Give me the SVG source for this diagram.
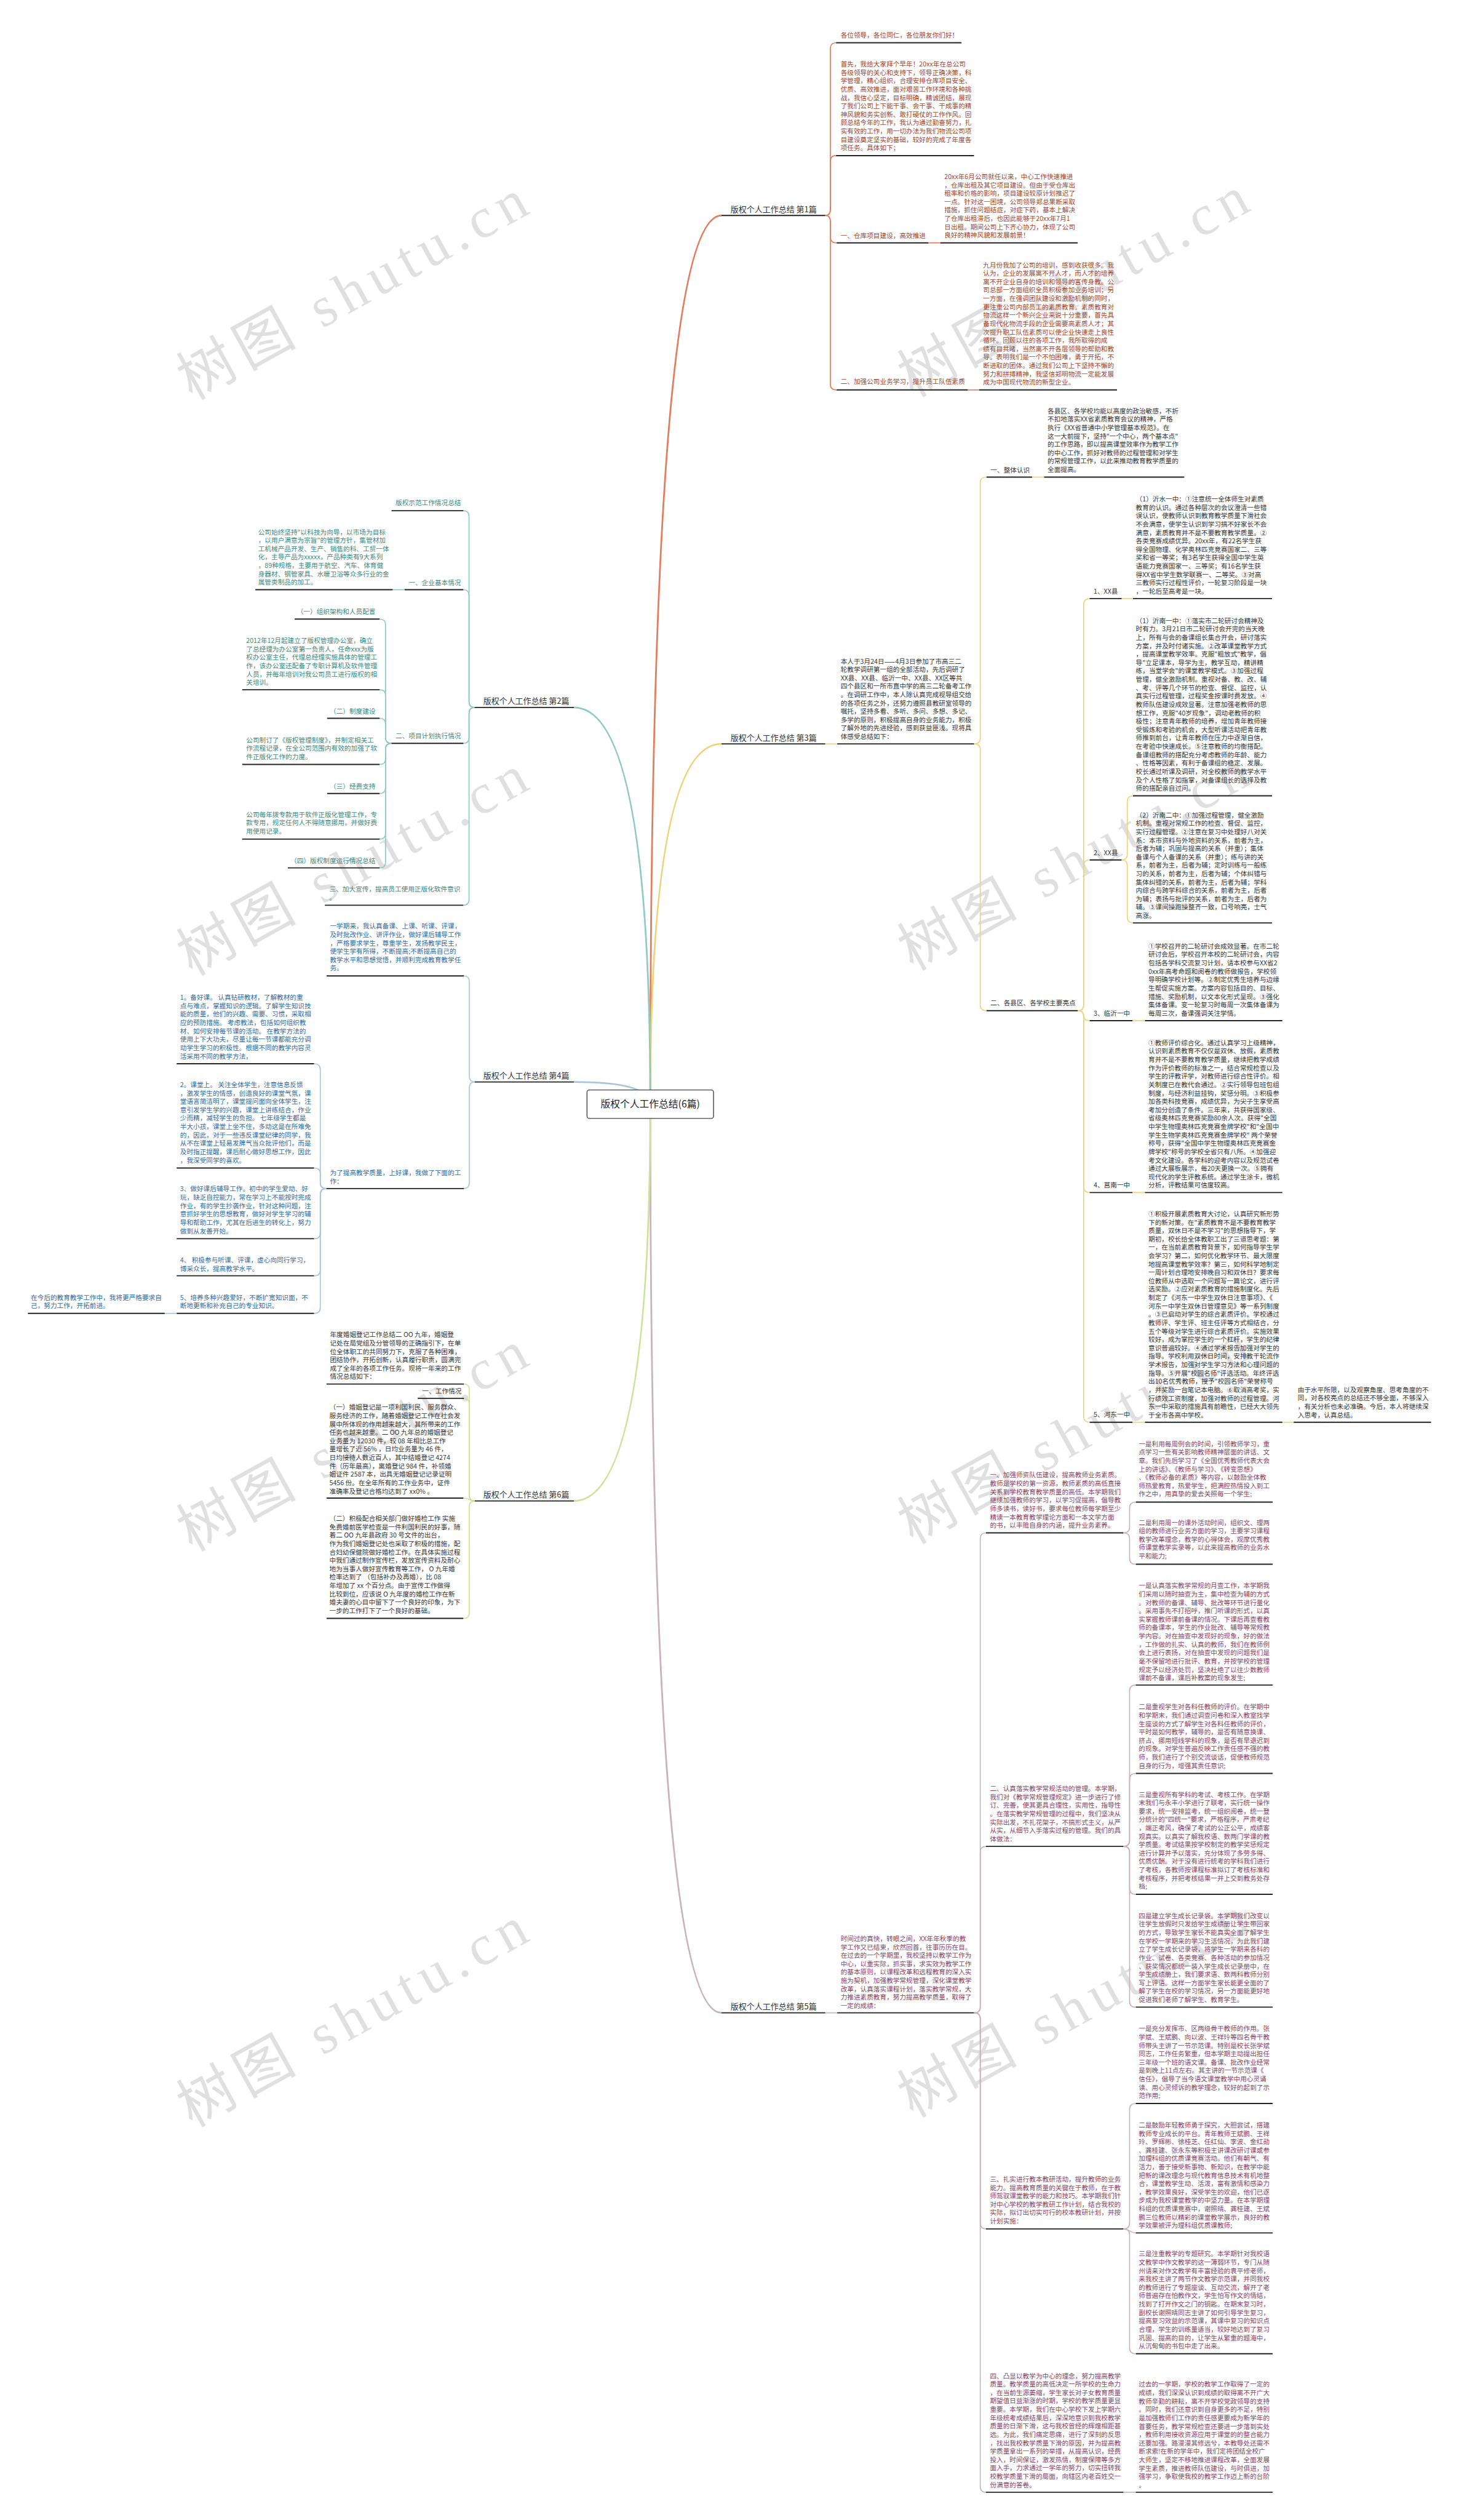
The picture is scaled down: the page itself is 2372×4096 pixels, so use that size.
<svg xmlns="http://www.w3.org/2000/svg" width="2372" height="4096" viewBox="0 0 2372 4096">
<defs>
<style>
.t{font-family:"Noto Sans CJK SC","Noto Sans",sans-serif;font-size:11.5px}
.lb{font-family:"Noto Sans CJK SC","Noto Sans",sans-serif;font-size:14px;fill:#333}
.c1{fill:#a8432c}.c2{fill:#3a8a7d}.c3{fill:#333}.c4{fill:#2e6aa8}.c5{fill:#8a3f63}.c6{fill:#333}
.ul{stroke:#222;stroke-width:2;fill:none}
.k{fill:none;stroke-width:1.8}
.tr{fill:none;stroke-width:3}
.k1{stroke:#e27c5e}.k2{stroke:#8fc9bf}.k3{stroke:#f0d27b}.k4{stroke:#a8c5df}.k5{stroke:#c9b1bd}.k6{stroke:#cde29a}
.wm{font-family:"Liberation Serif","Noto Sans CJK SC",serif;font-size:100px;letter-spacing:12px;fill:#d4d4d4;opacity:0.7;text-anchor:middle}
</style>
</defs>
<rect x="0" y="0" width="2372" height="4096" fill="#fff"/>
<g transform="scale(0.92656)">
<g id="watermark">
<text class="wm" transform="translate(640,535) rotate(-29)">树图 shutu.cn</text>
<text class="wm" transform="translate(640,1545) rotate(-29)">树图 shutu.cn</text>
<text class="wm" transform="translate(640,2555) rotate(-29)">树图 shutu.cn</text>
<text class="wm" transform="translate(640,3565) rotate(-29)">树图 shutu.cn</text>
<text class="wm" transform="translate(1905,530) rotate(-29)">树图 shutu.cn</text>
<text class="wm" transform="translate(1905,1536) rotate(-29)">树图 shutu.cn</text>
<text class="wm" transform="translate(1905,2542) rotate(-29)">树图 shutu.cn</text>
<text class="wm" transform="translate(1905,3548) rotate(-29)">树图 shutu.cn</text>
</g>
<g id="connectors">
<path class="tr k1" d="M1141,1937 Q1141,378 1266,378"/>
<path class="tr k3" d="M1141,1937 Q1141,1305 1266,1305"/>
<path class="tr k5" d="M1141,1937 Q1141,3531 1266,3531"/>
<path class="tr k2" d="M1141,1937 Q1141,1241 1007,1241"/>
<path class="tr k4" d="M1141,1937 Q1141,1898 1007,1898"/>
<path class="tr k6" d="M1141,1937 Q1141,2633 1007,2633"/>
<g class="k k1">
<path d="M1448,378 Q1457,378 1457,368 L1457,85 Q1457,75 1467,75"/>
<path d="M1448,378 Q1457,378 1457,368 L1457,283 Q1457,273 1467,273"/>
<path d="M1448,378 Q1457,378 1457,388 L1457,416 Q1457,426 1468,426"/>
<path d="M1448,378 Q1457,378 1457,388 L1457,674 Q1457,684 1468,684"/>
<path d="M1629,426 L1650,426"/>
<path d="M1698,684 L1718,684"/>
</g>
<g class="k k3">
<path d="M1448,1305 L1469,1305"/>
<path d="M1709,1305 Q1720,1305 1720,1295 L1720,847 Q1720,837 1731,837"/>
<path d="M1709,1305 Q1720,1305 1720,1315 L1720,1763 Q1720,1773 1731,1773"/>
<path d="M1811,837 L1832,837"/>
<path d="M1891,1773 Q1901.5,1773 1901.5,1763 L1901.5,1060 Q1901.5,1050 1912,1050"/>
<path d="M1891,1773 Q1901.5,1773 1901.5,1763 L1901.5,1518.5 Q1901.5,1508.5 1912,1508.5"/>
<path d="M1891,1773 Q1901.5,1773 1901.5,1781.75 Q1901.5,1790.5 1912,1790.5"/>
<path d="M1891,1773 Q1901.5,1773 1901.5,1783 L1901.5,2082 Q1901.5,2092 1912,2092"/>
<path d="M1891,1773 Q1901.5,1773 1901.5,1783 L1901.5,2485 Q1901.5,2495 1912,2495"/>
<path d="M1968,1050 L1988,1050"/>
<path d="M1968,1508.5 Q1978,1508.5 1978,1498.5 L1978,1406 Q1978,1396 1988,1396"/>
<path d="M1968,1508.5 Q1978,1508.5 1978,1518.5 L1978,1609 Q1978,1619 1988,1619"/>
<path d="M1987,1790.5 L2009,1790.5"/>
<path d="M1987,2092 L2009,2092"/>
<path d="M1987,2495 L2009,2495"/>
<path d="M2250,2495 L2270,2495"/>
</g>
<g class="k k2">
<path d="M833,1241 Q823,1241 823,1231 L823,906 Q823,896 813,896"/>
<path d="M833,1241 Q823,1241 823,1231 L823,1044.5 Q823,1034.5 813,1034.5"/>
<path d="M833,1241 Q823,1241 823,1251 L823,1294 Q823,1304 813,1304"/>
<path d="M833,1241 Q823,1241 823,1251 L823,1578 Q823,1588 813,1588"/>
<path d="M710,1034.5 L689,1034.5"/>
<path d="M687,1304 Q676.5,1304 676.5,1294 L676.5,1096 Q676.5,1086 666,1086"/>
<path d="M687,1304 Q676.5,1304 676.5,1294 L676.5,1220 Q676.5,1210 666,1210"/>
<path d="M687,1304 Q676.5,1304 676.5,1294 L676.5,1270 Q676.5,1260 666,1260"/>
<path d="M687,1304 Q676.5,1304 676.5,1314 L676.5,1331 Q676.5,1341 666,1341"/>
<path d="M687,1304 Q676.5,1304 676.5,1314 L676.5,1382 Q676.5,1392 666,1392"/>
<path d="M687,1304 Q676.5,1304 676.5,1314 L676.5,1462 Q676.5,1472 666,1472"/>
<path d="M687,1304 Q676.5,1304 676.5,1314 L676.5,1512.5 Q676.5,1522.5 666,1522.5"/>
</g>
<g class="k k4">
<path d="M833,1898 Q823.5,1898 823.5,1888 L823.5,1722 Q823.5,1712 814,1712"/>
<path d="M833,1898 Q823.5,1898 823.5,1908 L823.5,2075 Q823.5,2085 814,2085"/>
<path d="M573,2085 Q562,2085 562,2075 L562,1876 Q562,1866 551,1866"/>
<path d="M573,2085 Q562,2085 562,2075 L562,2059 Q562,2049 551,2049"/>
<path d="M573,2085 Q562,2085 562,2095 L562,2163 Q562,2173 551,2173"/>
<path d="M573,2085 Q562,2085 562,2095 L562,2228 Q562,2238 551,2238"/>
<path d="M573,2085 Q562,2085 562,2095 L562,2294 Q562,2304 551,2304"/>
<path d="M310,2304 L289,2304"/>
</g>
<g class="k k6">
<path d="M833,2633 Q823.5,2633 823.5,2623 L823.5,2438 Q823.5,2428 814,2428"/>
<path d="M833,2633 Q823.5,2633 823.5,2623 L823.5,2463 Q823.5,2453 814,2453"/>
<path d="M833,2633 C823.5,2633 823.5,2628 813,2628"/>
<path d="M833,2633 Q823.5,2633 823.5,2643 L823.5,2829 Q823.5,2839 813,2839"/>
</g>
<g class="k k5">
<path d="M1448,3531 L1469,3531"/>
<path d="M1709,3531 Q1720,3531 1720,3521 L1720,2699 Q1720,2689 1730,2689"/>
<path d="M1709,3531 Q1720,3531 1720,3521 L1720,3249 Q1720,3239 1730,3239"/>
<path d="M1709,3531 Q1720,3531 1720,3541 L1720,3900 Q1720,3910 1730,3910"/>
<path d="M1709,3531 Q1720,3531 1720,3541 L1720,4362 Q1720,4372 1730,4372"/>
<path d="M1971,2689 Q1982,2689 1982,2679 L1982,2645 Q1982,2635 1993,2635"/>
<path d="M1971,2689 Q1982,2689 1982,2699 L1982,2734 Q1982,2744 1993,2744"/>
<path d="M1971,3239 Q1982,3239 1982,3229 L1982,2966 Q1982,2956 1993,2956"/>
<path d="M1971,3239 Q1982,3239 1982,3229 L1982,3121 Q1982,3111 1993,3111"/>
<path d="M1971,3239 Q1982,3239 1982,3249 L1982,3313 Q1982,3323 1993,3323"/>
<path d="M1971,3239 Q1982,3239 1982,3249 L1982,3511 Q1982,3521 1993,3521"/>
<path d="M1971,3910 Q1982,3910 1982,3900 L1982,3700 Q1982,3690 1993,3690"/>
<path d="M1971,3910 C1982,3910 1982,3917 1993,3917"/>
<path d="M1971,3910 Q1982,3910 1982,3920 L1982,4119 Q1982,4129 1993,4129"/>
<path d="M1971,4372 L1993,4372"/>
</g>
</g>

<g id="center">
<rect x="1030" y="1912" width="222" height="50" rx="4" fill="#fff" stroke="#444" stroke-width="1.5"/>
<text x="1141" y="1943" text-anchor="middle" style="font-family:'Noto Sans CJK SC','Noto Sans',sans-serif;font-size:17px;fill:#222">版权个人工作总结(6篇)</text>
</g>

<g id="p1">
<text class="lb" x="1282" y="372">版权个人工作总结 第1篇</text><line class="ul" x1="1266" y1="378" x2="1448" y2="378"/>
</g>
<g id="p1-a" class="t c1"><text x="1475" y="65.6">各位领导，各位同仁，各位朋友你们好！</text><line class="ul" x1="1467" y1="75" x2="1687" y2="75"/></g>
<g id="p1-b" class="t c1"><text x="1475" y="116.6"><tspan x="1475">首先，我给大家拜个早年！20xx年在总公司</tspan><tspan x="1475" dy="14.7">各级领导的关心和支持下，领导正确决策，科</tspan><tspan x="1475" dy="14.7">学管理，精心组织，合理安排仓库项目安全、</tspan><tspan x="1475" dy="14.7">优质、高效推进，面对艰苦工作环境和各种挑</tspan><tspan x="1475" dy="14.7">战，我信心坚定，目标明确，精诚团结，展现</tspan><tspan x="1475" dy="14.7">了我们公司上下能干事、会干事、干成事的精</tspan><tspan x="1475" dy="14.7">神风貌和务实创新、敢打硬仗的工作作风。回</tspan><tspan x="1475" dy="14.7">顾总结今年的工作，我认为通过勤奋努力，扎</tspan><tspan x="1475" dy="14.7">实有效的工作，用一切办法为我们物流公司项</tspan><tspan x="1475" dy="14.7">目建设奠定坚实的基础，较好的完成了年度各</tspan><tspan x="1475" dy="14.7">项任务。具体如下；</tspan></text><line class="ul" x1="1467" y1="273" x2="1709" y2="273"/></g>
<g id="p1-c" class="t c1"><text x="1475" y="418">一、仓库项目建设，高效推进</text><line class="ul" x1="1468" y1="426" x2="1629" y2="426"/></g>
<g id="p1-c1" class="t c1"><text x="1657" y="314"><tspan x="1657">20xx年6月公司就任以来，中心工作快速推进</tspan><tspan x="1657" dy="14.7">，仓库出租及其它项目建设。但由于受仓库出</tspan><tspan x="1657" dy="14.7">租率和价格的影响，项目建设较原计划推迟了</tspan><tspan x="1657" dy="14.7">一点。针对这一困境，公司领导郑总果断采取</tspan><tspan x="1657" dy="14.7">措施，抓住问题结症，对症下药，基本上解决</tspan><tspan x="1657" dy="14.7">了仓库出租滞后，也因此能够于20xx年7月1</tspan><tspan x="1657" dy="14.7">日出租。期间公司上下齐心协力，体现了公司</tspan><tspan x="1657" dy="14.7">良好的精神风貌和发展前景！</tspan></text><line class="ul" x1="1650" y1="426" x2="1891" y2="426"/></g>
<g id="p1-d" class="t c1"><text x="1475" y="674">二、加强公司业务学习，提升员工队伍素质</text><line class="ul" x1="1468" y1="684" x2="1698" y2="684"/></g>
<g id="p1-d1" class="t c1"><text x="1725" y="469"><tspan x="1725">九月份我加了公司的培训，感到收获很多。我</tspan><tspan x="1725" dy="14.7">认为，企业的发展离不开人才，而人才的培养</tspan><tspan x="1725" dy="14.7">离不开企业自身的培训和领导的言传身教。公</tspan><tspan x="1725" dy="14.7">司总部一方面组织全员积极参加业务培训；另</tspan><tspan x="1725" dy="14.7">一方面，在强调团队建设和激励机制的同时，</tspan><tspan x="1725" dy="14.7">更注重公司内部员工的素质教育。素质教育对</tspan><tspan x="1725" dy="14.7">物流这样一个新兴企业来说十分重要，首先具</tspan><tspan x="1725" dy="14.7">备现代化物流手段的企业需要高素质人才；其</tspan><tspan x="1725" dy="14.7">次提升职工队伍素质可以使企业快速走上良性</tspan><tspan x="1725" dy="14.7">循环。回顾以往的各项工作，我所取得的成</tspan><tspan x="1725" dy="14.7">绩有目共睹，当然离不开各层领导的帮助和教</tspan><tspan x="1725" dy="14.7">导。表明我们是一个不怕困难，勇于开拓，不</tspan><tspan x="1725" dy="14.7">断进取的团体。通过我们公司上下坚持不懈的</tspan><tspan x="1725" dy="14.7">努力和拼搏精神，我坚信郑明物流一定能发展</tspan><tspan x="1725" dy="14.7">成为中国现代物流的新型企业。</tspan></text><line class="ul" x1="1718" y1="684" x2="1960" y2="684"/></g>

<g id="p3">
<text class="lb" x="1282" y="1299">版权个人工作总结 第3篇</text><line class="ul" x1="1266" y1="1305" x2="1448" y2="1305"/>
</g>
<g id="p3-a" class="t c3"><text x="1475" y="1164"><tspan x="1475">本人于3月24日——4月3日参加了市高三二</tspan><tspan x="1475" dy="14.7">轮教学调研第一组的全部活动，先后调研了</tspan><tspan x="1475" dy="14.7">XX县、XX县、临沂一中、XX县、XX区等共</tspan><tspan x="1475" dy="14.7">四个县区和一所市直中学的高三二轮备考工作</tspan><tspan x="1475" dy="14.7">。在调研工作中，本人除认真完成视导组交给</tspan><tspan x="1475" dy="14.7">的各项任务之外，还努力遵照县教研室领导的</tspan><tspan x="1475" dy="14.7">嘱托，坚持多看、多听、多问、多想、多记、</tspan><tspan x="1475" dy="14.7">多学的原则，积极提高自身的业务能力，积极</tspan><tspan x="1475" dy="14.7">了解外地的先进经验，感到获益匪浅。现将具</tspan><tspan x="1475" dy="14.7">体感受总结如下：</tspan></text><line class="ul" x1="1469" y1="1305" x2="1709" y2="1305"/></g>
<g id="p3-b" class="t c3"><text x="1738" y="828.5">一、整体认识</text><line class="ul" x1="1731" y1="837" x2="1811" y2="837"/></g>
<g id="p3-b1" class="t c3"><text x="1838" y="725"><tspan x="1838">各县区、各学校均能以高度的政治敏感，不折</tspan><tspan x="1838" dy="14.7">不扣地落实XX省素质教育会议的精神，严格</tspan><tspan x="1838" dy="14.7">执行《XX省普通中小学管理基本规范》。在</tspan><tspan x="1838" dy="14.7">这一大前提下，坚持"一个中心，两个基本点"</tspan><tspan x="1838" dy="14.7">的工作思路，即以提高课堂效率作为教学工作</tspan><tspan x="1838" dy="14.7">的中心工作，抓好对教师的过程管理和对学生</tspan><tspan x="1838" dy="14.7">的常规管理工作，以此来推动教育教学质量的</tspan><tspan x="1838" dy="14.7">全面提高。</tspan></text><line class="ul" x1="1832" y1="837" x2="2078" y2="837"/></g>
<g id="p3-c" class="t c3"><text x="1738" y="1764">二、各县区、各学校主要亮点</text><line class="ul" x1="1731" y1="1773" x2="1891" y2="1773"/></g>
<g id="p3-c1" class="t c3"><text x="1919" y="1041">1、XX县</text><line class="ul" x1="1912" y1="1050" x2="1968" y2="1050"/></g>
<g id="p3-c1a" class="t c3"><text x="1993" y="879.7"><tspan x="1993">（1）沂水一中：①注意统一全体师生对素质</tspan><tspan x="1993" dy="14.7">教育的认识。通过各种层次的会议澄清一些错</tspan><tspan x="1993" dy="14.7">误认识，使教师认识到教育教学质量下滑社会</tspan><tspan x="1993" dy="14.7">不会满意，使学生认识到学习搞不好家长不会</tspan><tspan x="1993" dy="14.7">满意，素质教育并不是不要教育教学质量。②</tspan><tspan x="1993" dy="14.7">各类竞赛成绩优异。20xx年，有22名学生获</tspan><tspan x="1993" dy="14.7">得全国物理、化学奥林匹克竞赛国家二、三等</tspan><tspan x="1993" dy="14.7">奖和省一等奖；有3名学生获得全国中学生英</tspan><tspan x="1993" dy="14.7">语能力竞赛国家一、三等奖；有16名学生获</tspan><tspan x="1993" dy="14.7">得XX省中学生数学联赛一、二等奖。③对高</tspan><tspan x="1993" dy="14.7">三教师实行过程性评价，一轮复习阶段是一块</tspan><tspan x="1993" dy="14.7">，一轮后至高考是一块。</tspan></text><line class="ul" x1="1988" y1="1050" x2="2232" y2="1050"/></g>
<g id="p3-c2" class="t c3"><text x="1919" y="1500">2、XX县</text><line class="ul" x1="1912" y1="1508.5" x2="1968" y2="1508.5"/></g>
<g id="p3-c2a" class="t c3"><text x="1993" y="1093"><tspan x="1993">（1）沂南一中：①落实市二轮研讨会精神及</tspan><tspan x="1993" dy="14.7">时有力。3月21日市二轮研讨会开完的当天晚</tspan><tspan x="1993" dy="14.7">上，所有与会的备课组长集合开会，研讨落实</tspan><tspan x="1993" dy="14.7">方案，并及时付诸实施。②改革课堂教学方式</tspan><tspan x="1993" dy="14.7">，提高课堂教学效率。克服"粗放式"教学，倡</tspan><tspan x="1993" dy="14.7">导"立足课本，导学为主，教学互动，精讲精</tspan><tspan x="1993" dy="14.7">练，当堂学会"的课堂教学模式。③加强过程</tspan><tspan x="1993" dy="14.7">管理，健全激励机制。重视对备、教、改、辅</tspan><tspan x="1993" dy="14.7">、考、评等几个环节的检查、督促、监控，认</tspan><tspan x="1993" dy="14.7">真实行过程管理，过程奖金按课时费发放。④</tspan><tspan x="1993" dy="14.7">教师队伍建设成效显著。注意加强老教师的思</tspan><tspan x="1993" dy="14.7">想工作，克服"40岁现象"，调动老教师的积</tspan><tspan x="1993" dy="14.7">极性；注意青年教师的培养，增加青年教师接</tspan><tspan x="1993" dy="14.7">受锻炼和考验的机会，大型听课活动把青年教</tspan><tspan x="1993" dy="14.7">师推到前台，让青年教师在压力中逐渐自信，</tspan><tspan x="1993" dy="14.7">在考验中快速成长。⑤注意教师的均衡搭配。</tspan><tspan x="1993" dy="14.7">备课组教师的搭配充分考虑教师的年龄、能力</tspan><tspan x="1993" dy="14.7">、性格等因素，有利于备课组的稳定、发展。</tspan><tspan x="1993" dy="14.7">校长通过听课及调研，对全校教师的教学水平</tspan><tspan x="1993" dy="14.7">及个人性格了如指掌，对备课组长的选择及教</tspan><tspan x="1993" dy="14.7">师的搭配亲自过问。</tspan></text><line class="ul" x1="1988" y1="1396" x2="2232" y2="1396"/></g>
<g id="p3-c2b" class="t c3"><text x="1993" y="1434"><tspan x="1993">（2）沂南二中：①加强过程管理，健全激励</tspan><tspan x="1993" dy="14.7">机制。重视对常规工作的检查、督促、监控，</tspan><tspan x="1993" dy="14.7">实行过程管理。②注意在复习中处理好八对关</tspan><tspan x="1993" dy="14.7">系：本市资料与外地资料的关系，前者为主，</tspan><tspan x="1993" dy="14.7">后者为辅；巩固与提高的关系（并重）；集体</tspan><tspan x="1993" dy="14.7">备课与个人备课的关系（并重）；练与讲的关</tspan><tspan x="1993" dy="14.7">系，前者为主，后者为辅；定时训练与一般练</tspan><tspan x="1993" dy="14.7">习的关系，前者为主，后者为辅；个体纠错与</tspan><tspan x="1993" dy="14.7">集体纠错的关系，前者为主，后者为辅；学科</tspan><tspan x="1993" dy="14.7">内综合与跨学科综合的关系，前者为主，后者</tspan><tspan x="1993" dy="14.7">为辅；表扬与批评的关系，前者为主，后者为</tspan><tspan x="1993" dy="14.7">辅。③课间操跑操整齐一致，口号响亮，士气</tspan><tspan x="1993" dy="14.7">高涨。</tspan></text><line class="ul" x1="1988" y1="1619" x2="2232" y2="1619"/></g>
<g id="p3-c3" class="t c3"><text x="1919" y="1781.5">3、临沂一中</text><line class="ul" x1="1912" y1="1790.5" x2="1987" y2="1790.5"/></g>
<g id="p3-c3a" class="t c3"><text x="2015" y="1664"><tspan x="2015">①学校召开的二轮研讨会成效显著。在市二轮</tspan><tspan x="2015" dy="14.7">研讨会后，学校召开本校的二轮研讨会，内容</tspan><tspan x="2015" dy="14.7">包括各学科交流复习计划，请本校参与XX省2</tspan><tspan x="2015" dy="14.7">0xx年高考命题和阅卷的教师做报告，学校领</tspan><tspan x="2015" dy="14.7">导明确学校计划等。②制定优秀生培养与边缘</tspan><tspan x="2015" dy="14.7">生帮促实施方案。方案内容包括目的、目标、</tspan><tspan x="2015" dy="14.7">措施、奖励机制，以文本化形式呈现。③强化</tspan><tspan x="2015" dy="14.7">集体备课。变一轮复习时每周一次集体备课为</tspan><tspan x="2015" dy="14.7">每周三次，备课强调关注学情。</tspan></text><line class="ul" x1="2009" y1="1790.5" x2="2250" y2="1790.5"/></g>
<g id="p3-c4" class="t c3"><text x="1919" y="2083">4、莒南一中</text><line class="ul" x1="1912" y1="2092" x2="1987" y2="2092"/></g>
<g id="p3-c4a" class="t c3"><text x="2015" y="1833.5"><tspan x="2015">①教师评价综合化。通过认真学习上级精神，</tspan><tspan x="2015" dy="14.7">认识到素质教育不仅仅是双休、放假，素质教</tspan><tspan x="2015" dy="14.7">育并不是不要教育教学质量，继续把教学成绩</tspan><tspan x="2015" dy="14.7">作为评价教师的标准之一，结合常规检查以及</tspan><tspan x="2015" dy="14.7">学生的评教评学，对教师进行综合性评价。相</tspan><tspan x="2015" dy="14.7">关制度已在教代会通过。②实行领导包班包组</tspan><tspan x="2015" dy="14.7">制度，与经济利益挂钩，奖惩分明。③积极参</tspan><tspan x="2015" dy="14.7">加各类科技竞赛，成绩优异，为尖子生享受高</tspan><tspan x="2015" dy="14.7">考加分创造了条件。三年来，共获得国家级、</tspan><tspan x="2015" dy="14.7">省级奥林匹克竞赛奖励80余人次。获得"全国</tspan><tspan x="2015" dy="14.7">中学生物理奥林匹克竞赛金牌学校"和"全国中</tspan><tspan x="2015" dy="14.7">学生生物学奥林匹克竞赛金牌学校" 两个荣誉</tspan><tspan x="2015" dy="14.7">称号，获得"全国中学生物理奥林匹克竞赛金</tspan><tspan x="2015" dy="14.7">牌学校"称号的学校全省只有八所。④加强迎</tspan><tspan x="2015" dy="14.7">考文化建设。各学科的迎考内容以及规范试卷</tspan><tspan x="2015" dy="14.7">通过大展板展示，每20天更换一次。⑤拥有</tspan><tspan x="2015" dy="14.7">现代化的学生评教系统。通过学生涂卡，微机</tspan><tspan x="2015" dy="14.7">分析，评教结果可信度较高。</tspan></text><line class="ul" x1="2009" y1="2092" x2="2250" y2="2092"/></g>
<g id="p3-c5" class="t c3"><text x="1919" y="2486">5、河东一中</text><line class="ul" x1="1912" y1="2495" x2="1987" y2="2495"/></g>
<g id="p3-c5a" class="t c3"><text x="2015" y="2133.6"><tspan x="2015">①积极开展素质教育大讨论，认真研究新形势</tspan><tspan x="2015" dy="14.7">下的新对策。在"素质教育不是不要教育教学</tspan><tspan x="2015" dy="14.7">质量，双休日不是不学习"的思想指导下，学</tspan><tspan x="2015" dy="14.7">期初，校长给全体教职工出了三道思考题：第</tspan><tspan x="2015" dy="14.7">一，在当前素质教育背景下，如何指导学生学</tspan><tspan x="2015" dy="14.7">会学习？第二，如何优化教学环节、最大限度</tspan><tspan x="2015" dy="14.7">地提高课堂教学效率？第三，如何科学地制定</tspan><tspan x="2015" dy="14.7">一周计划合理地安排晚自习和双休日？要求每</tspan><tspan x="2015" dy="14.7">位教师从中选取一个问题写一篇论文，进行评</tspan><tspan x="2015" dy="14.7">选奖励。②应对素质教育的措施制度化。先后</tspan><tspan x="2015" dy="14.7">制定了《河东一中学生双休日注意事项》、《</tspan><tspan x="2015" dy="14.7">河东一中学生双休日管理意见》等一系列制度</tspan><tspan x="2015" dy="14.7">。③已启动对学生的综合素质评价。学校通过</tspan><tspan x="2015" dy="14.7">教师评、学生评、班主任评等方式相结合，分</tspan><tspan x="2015" dy="14.7">五个等级对学生进行综合素质评价。实施效果</tspan><tspan x="2015" dy="14.7">较好，成为掌控学生的一个杠杆，学生的纪律</tspan><tspan x="2015" dy="14.7">意识普遍较好。④通过学术报告加强对学生的</tspan><tspan x="2015" dy="14.7">指导。学校利用双休日时间，安排教干轮流作</tspan><tspan x="2015" dy="14.7">学术报告，加强对学生学习方法和心理问题的</tspan><tspan x="2015" dy="14.7">指导。⑤开展"校园名师"评选活动。年终评选</tspan><tspan x="2015" dy="14.7">出10名优秀教师，授予"校园名师"荣誉称号</tspan><tspan x="2015" dy="14.7">，并奖励一台笔记本电脑。⑥取消高考奖，实</tspan><tspan x="2015" dy="14.7">行绩效工资制度，加强对教师的过程管理。河</tspan><tspan x="2015" dy="14.7">东一中采取的措施具有前瞻性，已经大大领先</tspan><tspan x="2015" dy="14.7">于全市各高中学校。</tspan></text><line class="ul" x1="2009" y1="2495" x2="2250" y2="2495"/></g>
<g id="p3-c5b" class="t c3"><text x="2277" y="2442"><tspan x="2277">由于水平所限，以及观察角度、思考角度的不</tspan><tspan x="2277" dy="14.7">同，对各校亮点的总结还不够全面，不够深入</tspan><tspan x="2277" dy="14.7">，有关分析也未必准确。今后，本人将继续深</tspan><tspan x="2277" dy="14.7">入思考，认真总结。</tspan></text><line class="ul" x1="2270" y1="2495" x2="2511" y2="2495"/></g>

<g id="p2">
<text class="lb" x="848" y="1235">版权个人工作总结 第2篇</text><line class="ul" x1="833" y1="1241" x2="1007" y2="1241"/>
</g>
<g id="p2-a" class="t c2"><text x="694" y="886">版权示范工作情况总结</text><line class="ul" x1="687" y1="896" x2="813" y2="896"/></g>
<g id="p2-b" class="t c2"><text x="717" y="1026.5">一、企业基本情况</text><line class="ul" x1="710" y1="1034.5" x2="813" y2="1034.5"/></g>
<g id="p2-b1" class="t c2"><text x="453" y="937.5"><tspan x="453">公司始终坚持"以科技为向导，以市场为目标</tspan><tspan x="453" dy="14.7">，以用户满意为宗旨"的管理方针，集管材加</tspan><tspan x="453" dy="14.7">工机械产品开发、生产、销售的科、工贸一体</tspan><tspan x="453" dy="14.7">化，主导产品为xxxxx，产品种类有9大系列</tspan><tspan x="453" dy="14.7">，89种规格，主要用于航空、汽车、体育健</tspan><tspan x="453" dy="14.7">身器材、钢管家具、水暖卫浴等众多行业的金</tspan><tspan x="453" dy="14.7">属管类制品的加工。</tspan></text><line class="ul" x1="448" y1="1034.5" x2="689" y2="1034.5"/></g>
<g id="p2-c" class="t c2"><text x="694" y="1295.5">二、项目计划执行情况</text><line class="ul" x1="687" y1="1304" x2="813" y2="1304"/></g>
<g id="p2-c1" class="t c2"><text x="521" y="1077.5">（一）组织架构和人员配置</text><line class="ul" x1="517" y1="1086" x2="666" y2="1086"/></g>
<g id="p2-c1a" class="t c2"><text x="432" y="1128"><tspan x="432">2012年12月起建立了版权管理办公室，确立</tspan><tspan x="432" dy="14.7">了总经理为办公室第一负责人，任命xxx为版</tspan><tspan x="432" dy="14.7">权办公室主任，代理总经理实施具体的管理工</tspan><tspan x="432" dy="14.7">作，该办公室还配备了专职计算机及软件管理</tspan><tspan x="432" dy="14.7">人员，并每年培训对我公司员工进行版权的相</tspan><tspan x="432" dy="14.7">关培训。</tspan></text><line class="ul" x1="425" y1="1210" x2="666" y2="1210"/></g>
<g id="p2-c2" class="t c2"><text x="578.5" y="1252">（二）制度建设</text><line class="ul" x1="574" y1="1260" x2="666" y2="1260"/></g>
<g id="p2-c2a" class="t c2"><text x="432" y="1302.5"><tspan x="432">公司制订了《版权管理制度》，并制定相关工</tspan><tspan x="432" dy="14.7">作流程记录，在全公司范围内有效的加强了软</tspan><tspan x="432" dy="14.7">件正版化工作的力度。</tspan></text><line class="ul" x1="425" y1="1341" x2="666" y2="1341"/></g>
<g id="p2-c3" class="t c2"><text x="578.5" y="1383.5">（三）经费支持</text><line class="ul" x1="574" y1="1392" x2="666" y2="1392"/></g>
<g id="p2-c3a" class="t c2"><text x="432" y="1433"><tspan x="432">公司每年拨专款用于软件正版化管理工作，专</tspan><tspan x="432" dy="14.7">款专用，规定任何人不得随意挪用，并做好费</tspan><tspan x="432" dy="14.7">用使用记录。</tspan></text><line class="ul" x1="425" y1="1472" x2="666" y2="1472"/></g>
<g id="p2-c4" class="t c2"><text x="509.5" y="1514">（四）版权制度运行情况总结</text><line class="ul" x1="505" y1="1522.5" x2="666" y2="1522.5"/></g>
<g id="p2-d" class="t c2"><text x="578" y="1564"><tspan x="578">三、加大宣传，提高员工使用正版化软件意识</tspan><tspan x="578" dy="14.7">。</tspan></text><line class="ul" x1="570" y1="1588" x2="813" y2="1588"/></g>

<g id="p4">
<text class="lb" x="848" y="1892">版权个人工作总结 第4篇</text><line class="ul" x1="833" y1="1898" x2="1007" y2="1898"/>
</g>
<g id="p4-a" class="t c4"><text x="579" y="1629"><tspan x="579">一学期来，我认真备课、上课、听课、评课，</tspan><tspan x="579" dy="14.7">及时批改作业、讲评作业，做好课后辅导工作</tspan><tspan x="579" dy="14.7">，严格要求学生，尊重学生，发扬教学民主，</tspan><tspan x="579" dy="14.7">使学生学有所得，不断提高;不断提高自己的</tspan><tspan x="579" dy="14.7">教学水平和思想觉悟，并顺利完成教育教学任</tspan><tspan x="579" dy="14.7">务。</tspan></text><line class="ul" x1="573" y1="1712" x2="814" y2="1712"/></g>
<g id="p4-b" class="t c4"><text x="579" y="2061.5"><tspan x="579">为了提高教学质量，上好课，我做了下面的工</tspan><tspan x="579" dy="14.7">作：</tspan></text><line class="ul" x1="573" y1="2085" x2="814" y2="2085"/></g>
<g id="p4-b1" class="t c4"><text x="316" y="1754"><tspan x="316">1。备好课。 认真钻研教材，了解教材的重</tspan><tspan x="316" dy="14.7">点与难点，掌握知识的逻辑。了解学生知识技</tspan><tspan x="316" dy="14.7">能的质量，他们的兴趣、需要、习惯，采取相</tspan><tspan x="316" dy="14.7">应的预防措施。 考虑教法，包括如何组织教</tspan><tspan x="316" dy="14.7">材、如何安排每节课的活动。 在教学方法的</tspan><tspan x="316" dy="14.7">使用上下大功夫，尽量让每一节课都能充分调</tspan><tspan x="316" dy="14.7">动学生学习的积极性。根据不同的教学内容灵</tspan><tspan x="316" dy="14.7">活采用不同的教学方法，</tspan></text><line class="ul" x1="310" y1="1866" x2="551" y2="1866"/></g>
<g id="p4-b2" class="t c4"><text x="316" y="1907"><tspan x="316">2。课堂上。 关注全体学生，注意信息反馈</tspan><tspan x="316" dy="14.7">，激发学生的情感，创造良好的课堂气氛，课</tspan><tspan x="316" dy="14.7">堂语言简洁明了，课堂提问面向全体学生，注</tspan><tspan x="316" dy="14.7">意引发学生学的兴趣，课堂上讲练结合，作业</tspan><tspan x="316" dy="14.7">少而精，减轻学生的负担。 七年级学生都是</tspan><tspan x="316" dy="14.7">半大小孩，课堂上坐不住，多动这是在所难免</tspan><tspan x="316" dy="14.7">的，因此，对于一些违反课堂纪律的同学，我</tspan><tspan x="316" dy="14.7">从不在课堂上轻易发脾气当众批评他们，而是</tspan><tspan x="316" dy="14.7">及时指正提醒，课后耐心做好思想工作，因此</tspan><tspan x="316" dy="14.7">，我深受同学的喜欢。</tspan></text><line class="ul" x1="310" y1="2049" x2="551" y2="2049"/></g>
<g id="p4-b3" class="t c4"><text x="316" y="2090"><tspan x="316">3、做好课后辅导工作。初中的学生爱动、好</tspan><tspan x="316" dy="14.7">玩，缺乏自控能力，常在学习上不能按时完成</tspan><tspan x="316" dy="14.7">作业，有的学生抄袭作业，针对这种问题，注</tspan><tspan x="316" dy="14.7">意抓好学生的思想教育，做好对学生学习的辅</tspan><tspan x="316" dy="14.7">导和帮助工作，尤其在后进生的转化上，努力</tspan><tspan x="316" dy="14.7">做到从友善开始。</tspan></text><line class="ul" x1="310" y1="2173" x2="551" y2="2173"/></g>
<g id="p4-b4" class="t c4"><text x="316" y="2214.6"><tspan x="316">4、 积极参与听课、评课，虚心向同行学习，</tspan><tspan x="316" dy="14.7">博采众长，提高教学水平。</tspan></text><line class="ul" x1="310" y1="2238" x2="551" y2="2238"/></g>
<g id="p4-b5" class="t c4"><text x="316" y="2280"><tspan x="316">5、培养多种兴趣爱好，不断扩宽知识面，不</tspan><tspan x="316" dy="14.7">断地更新和补充自己的专业知识。</tspan></text><line class="ul" x1="310" y1="2304" x2="551" y2="2304"/></g>
<g id="p4-b5a" class="t c4"><text x="54" y="2280"><tspan x="54">在今后的教育教学工作中，我将更严格要求自</tspan><tspan x="54" dy="14.7">己，努力工作，开拓前进。</tspan></text><line class="ul" x1="49" y1="2304" x2="289" y2="2304"/></g>

<g id="p6">
<text class="lb" x="848" y="2627">版权个人工作总结 第6篇</text><line class="ul" x1="833" y1="2633" x2="1007" y2="2633"/>
</g>
<g id="p6-a" class="t c6"><text x="579" y="2345.6"><tspan x="579">年度婚姻登记工作总结二 OO 九年，婚姻登</tspan><tspan x="579" dy="14.7">记处在局党组及分管领导的正确指引下，在单</tspan><tspan x="579" dy="14.7">位全体职工的共同努力下，克服了各种困难，</tspan><tspan x="579" dy="14.7">团结协作，开拓创新，认真履行职责，圆满完</tspan><tspan x="579" dy="14.7">成了全年的各项工作任务。现将一年来的工作</tspan><tspan x="579" dy="14.7">情况总结如下：</tspan></text><line class="ul" x1="573" y1="2428" x2="814" y2="2428"/></g>
<g id="p6-b" class="t c6"><text x="741" y="2444.5">一、工作情况</text><line class="ul" x1="733" y1="2453" x2="814" y2="2453"/></g>
<g id="p6-c" class="t c6"><text x="578" y="2473"><tspan x="578">（一）婚姻登记是一项利国利民、服务群众、</tspan><tspan x="578" dy="14.7">服务经济的工作，随着婚姻登记工作在社会发</tspan><tspan x="578" dy="14.7">展中所体现的作用越来越大，其所带来的工作</tspan><tspan x="578" dy="14.7">任务也越来越重。二 OO 九年总的婚姻登记</tspan><tspan x="578" dy="14.7">业务量为 12030 件，较 08 年相比总工作</tspan><tspan x="578" dy="14.7">量增长了近 56% ，日均业务量为 46 件，</tspan><tspan x="578" dy="14.7">日均接待人数近百人，其中结婚登记 4274</tspan><tspan x="578" dy="14.7">件（历年最高），离婚登记 984 件，补领婚</tspan><tspan x="578" dy="14.7">姻证件 2587 本，出具无婚姻登记记录证明</tspan><tspan x="578" dy="14.7">5456 份。在全年所有的工作业务中，证件</tspan><tspan x="578" dy="14.7">准确率及登记合格均达到了 xx0% 。</tspan></text><line class="ul" x1="573" y1="2628" x2="813" y2="2628"/></g>
<g id="p6-d" class="t c6"><text x="578" y="2668"><tspan x="578">（二）积极配合相关部门做好婚检工作 实施</tspan><tspan x="578" dy="14.7">免费婚前医学检查是一件利国利民的好事，随</tspan><tspan x="578" dy="14.7">着二 OO 九年县政府 30 号文件的出台，</tspan><tspan x="578" dy="14.7">作为我们婚姻登记处也采取了积极的措施，配</tspan><tspan x="578" dy="14.7">合妇幼保健院做好婚检工作。在具体实施过程</tspan><tspan x="578" dy="14.7">中我们通过制作宣传栏，发放宣传资料及耐心</tspan><tspan x="578" dy="14.7">地为当事人做好宣传教育等工作， O 九年婚</tspan><tspan x="578" dy="14.7">检率达到了 （包括补办及再婚），比 08</tspan><tspan x="578" dy="14.7">年增加了 xx 个百分点。由于宣传工作做得</tspan><tspan x="578" dy="14.7">比较到位，应该说 O 九年度的婚检工作在新</tspan><tspan x="578" dy="14.7">婚夫妻的心目中留下了一个良好的印象，为下</tspan><tspan x="578" dy="14.7">一步的工作打下了一个良好的基础。</tspan></text><line class="ul" x1="573" y1="2839" x2="813" y2="2839"/></g>

<g id="p5">
<text class="lb" x="1282" y="3525">版权个人工作总结 第5篇</text><line class="ul" x1="1266" y1="3531" x2="1448" y2="3531"/>
</g>
<g id="p5-a" class="t c5"><text x="1475" y="3405"><tspan x="1475">时间过的真快，转眼之间，XX年年秋季的教</tspan><tspan x="1475" dy="14.7">学工作又已结束，欣然回首，往事历历在目。</tspan><tspan x="1475" dy="14.7">在过去的一个学期里，我校坚持以教学工作为</tspan><tspan x="1475" dy="14.7">中心，以重实际，抓实事，求实效为教学工作</tspan><tspan x="1475" dy="14.7">的基本原则，以课程改革和远程教育的深入实</tspan><tspan x="1475" dy="14.7">施为契机，加强教学常规管理，深化课堂教学</tspan><tspan x="1475" dy="14.7">改革，认真落实课程计划，落实教学常规，大</tspan><tspan x="1475" dy="14.7">力推进素质教育，努力提高教学质量，取得了</tspan><tspan x="1475" dy="14.7">一定的成绩：</tspan></text><line class="ul" x1="1469" y1="3531" x2="1709" y2="3531"/></g>
<g id="p5-b1" class="t c5"><text x="1737" y="2591.8"><tspan x="1737">一、加强师资队伍建设，提高教师业务素质。</tspan><tspan x="1737" dy="14.7">教师是学校的第一资源，教师素质的高低直接</tspan><tspan x="1737" dy="14.7">关系到学校教育教学质量的高低。本学期我们</tspan><tspan x="1737" dy="14.7">继续加强教师的学习，以学习促提高，倡导教</tspan><tspan x="1737" dy="14.7">师多读书，读好书，要求每位教师每学期至少</tspan><tspan x="1737" dy="14.7">精读一本教育教学理论方面和一本文学方面</tspan><tspan x="1737" dy="14.7">的书，以丰赡自身的内涵，提升业务素养。</tspan></text><line class="ul" x1="1730" y1="2689" x2="1971" y2="2689"/></g>
<g id="p5-b1a" class="t c5"><text x="1998" y="2537"><tspan x="1998">一是利用每周例会的时间，引领教师学习，重</tspan><tspan x="1998" dy="14.7">点学习一些有关影响教师精神层面的讲话、文</tspan><tspan x="1998" dy="14.7">章。我们先后学习了《全国优秀教师代表大会</tspan><tspan x="1998" dy="14.7">上的讲话》、《教师与学习》、《转变思想》</tspan><tspan x="1998" dy="14.7">、《教师必备的素质》等内容，以鼓励全体教</tspan><tspan x="1998" dy="14.7">师热爱教育，热爱学生，把满腔热情投入到工</tspan><tspan x="1998" dy="14.7">作之中，用真挚的爱去关照每一个学生;</tspan></text><line class="ul" x1="1993" y1="2635" x2="2233" y2="2635"/></g>
<g id="p5-b1b" class="t c5"><text x="1998" y="2675"><tspan x="1998">二是利用周一的课外活动时间，组织文、理两</tspan><tspan x="1998" dy="14.7">组的教师进行业务方面的学习，主要学习课程</tspan><tspan x="1998" dy="14.7">教学改革理念，教学的心得体会，观摩优秀教</tspan><tspan x="1998" dy="14.7">师课堂教学实录等，以此来提高教师的业务水</tspan><tspan x="1998" dy="14.7">平和能力;</tspan></text><line class="ul" x1="1993" y1="2744" x2="2233" y2="2744"/></g>
<g id="p5-b2" class="t c5"><text x="1737" y="3142"><tspan x="1737">二、认真落实教学常规活动的管理。本学期，</tspan><tspan x="1737" dy="14.7">我们对《教学常规管理规定》进一步进行了修</tspan><tspan x="1737" dy="14.7">订、完善，使其更具合理性，实用性，指导性</tspan><tspan x="1737" dy="14.7">。在落实教学常规管理的过程中，我们坚决从</tspan><tspan x="1737" dy="14.7">实际出发，不扎花架子，不搞形式主义，从严</tspan><tspan x="1737" dy="14.7">从实，从细节入手落实过程的管理。我们的具</tspan><tspan x="1737" dy="14.7">体做法：</tspan></text><line class="ul" x1="1730" y1="3239" x2="1971" y2="3239"/></g>
<g id="p5-b2a" class="t c5"><text x="1998" y="2786"><tspan x="1998">一是认真落实教学常规的月查工作，本学期我</tspan><tspan x="1998" dy="14.7">们采用以随时抽查为主，集中检查为辅的方式</tspan><tspan x="1998" dy="14.7">。对教师的备课、辅导、批改等环节进行量化</tspan><tspan x="1998" dy="14.7">。采用事先不打招呼，推门听课的形式，以真</tspan><tspan x="1998" dy="14.7">实掌握教师课前备课的情况。下课后再查看教</tspan><tspan x="1998" dy="14.7">师的备课本，学生的作业批改、辅导等常规教</tspan><tspan x="1998" dy="14.7">学内容。对在抽查中发现好的现象，好的做法</tspan><tspan x="1998" dy="14.7">，工作做的扎实、认真的教师，我们在教师例</tspan><tspan x="1998" dy="14.7">会上进行表扬，对在抽查中发现的问题我们是</tspan><tspan x="1998" dy="14.7">毫不保留地进行批评、教育，并按学校的管理</tspan><tspan x="1998" dy="14.7">规定予以经济处罚，坚决杜绝了以往少数教师</tspan><tspan x="1998" dy="14.7">课前不备课，课后补教案的现象发生;</tspan></text><line class="ul" x1="1993" y1="2956" x2="2233" y2="2956"/></g>
<g id="p5-b2b" class="t c5"><text x="1998" y="2998.5"><tspan x="1998">二是重视学生对各科任教师的评价。在学期中</tspan><tspan x="1998" dy="14.7">和学期末，我们通过调查问卷和深入教室找学</tspan><tspan x="1998" dy="14.7">生座谈的方式了解学生对各科任教师的评价，</tspan><tspan x="1998" dy="14.7">平时是如何教学，辅导的，是否有随意换课、</tspan><tspan x="1998" dy="14.7">挤占、挪用短线学科的现象，是否有早退迟到</tspan><tspan x="1998" dy="14.7">的现象。对学生普遍反映工作责任感不强的教</tspan><tspan x="1998" dy="14.7">师，我们进行了个别交流谈话，促使教师规范</tspan><tspan x="1998" dy="14.7">自身的行为，增强其责任意识;</tspan></text><line class="ul" x1="1993" y1="3111" x2="2233" y2="3111"/></g>
<g id="p5-b2c" class="t c5"><text x="1998" y="3152"><tspan x="1998">三是重视所有学科的考试、考核工作。在学期</tspan><tspan x="1998" dy="14.7">末我们与永丰小学进行了联考，实行统一操作</tspan><tspan x="1998" dy="14.7">要求，统一安排监考，统一组织阅卷，统一登</tspan><tspan x="1998" dy="14.7">分统计的"四统一"要求，严格程序，严肃考纪</tspan><tspan x="1998" dy="14.7">，端正考风，确保了考试的公正公平，成绩客</tspan><tspan x="1998" dy="14.7">观真实。以真实了解我校语、数两门学课的教</tspan><tspan x="1998" dy="14.7">学质量。考试结果按学校制定的教学奖惩规定</tspan><tspan x="1998" dy="14.7">进行计算并予以落实，充分体现了多劳多得、</tspan><tspan x="1998" dy="14.7">优质优酬。对于没有进行统考的学科我们进行</tspan><tspan x="1998" dy="14.7">了考核，各教师按课程标准拟订了考核标准和</tspan><tspan x="1998" dy="14.7">考核程序，并把考核结果一并上交到教务处存</tspan><tspan x="1998" dy="14.7">档;</tspan></text><line class="ul" x1="1993" y1="3323" x2="2233" y2="3323"/></g>
<g id="p5-b2d" class="t c5"><text x="1998" y="3365"><tspan x="1998">四是建立学生成长记录袋。本学期我们改变以</tspan><tspan x="1998" dy="14.7">往学生放假时只发给学生成绩册让学生带回家</tspan><tspan x="1998" dy="14.7">的方式，导致学生家长不能真实全面了解学生</tspan><tspan x="1998" dy="14.7">在学校一学期来的学习生活情况，为此我们建</tspan><tspan x="1998" dy="14.7">立了学生成长记录袋，将学生一学期来各科的</tspan><tspan x="1998" dy="14.7">作业、试卷、各类竞赛、各种活动的参加情况</tspan><tspan x="1998" dy="14.7">、获奖情况都统一装入学生成长记录册中，在</tspan><tspan x="1998" dy="14.7">学生成绩册上，我们要求语、数两科教师分别</tspan><tspan x="1998" dy="14.7">写上评语。这样一方面学生家长能更全面的了</tspan><tspan x="1998" dy="14.7">解了学生在校的学习情况，另一方面能更好地</tspan><tspan x="1998" dy="14.7">促进我们老师了解学生、教育学生。</tspan></text><line class="ul" x1="1993" y1="3521" x2="2233" y2="3521"/></g>
<g id="p5-b3" class="t c5"><text x="1737" y="3827"><tspan x="1737">三、扎实进行教本教研活动，提升教师的业务</tspan><tspan x="1737" dy="14.7">能力。提高教育质量的关键在于教师，在于教</tspan><tspan x="1737" dy="14.7">师驾驭课堂教学的能力和技巧。本学期我们针</tspan><tspan x="1737" dy="14.7">对中心学校的教学教研工作计划，结合我校的</tspan><tspan x="1737" dy="14.7">实际，拟订出切实可行的校本教研计划，并按</tspan><tspan x="1737" dy="14.7">计划实施：</tspan></text><line class="ul" x1="1730" y1="3910" x2="1971" y2="3910"/></g>
<g id="p5-b3a" class="t c5"><text x="1998" y="3563"><tspan x="1998">一是充分发挥市、区两级骨干教师的作用。张</tspan><tspan x="1998" dy="14.7">学斌、王斌鹏、向以波、王祥玲等四名骨干教</tspan><tspan x="1998" dy="14.7">师带头主讲了一节示范课。特别是校长张学斌</tspan><tspan x="1998" dy="14.7">同志，工作任务繁重，但本学期主动提出担任</tspan><tspan x="1998" dy="14.7">三年级一个班的语文课。备课、批改作业经常</tspan><tspan x="1998" dy="14.7">是到晚上11点左右。其主讲的一节示范课《</tspan><tspan x="1998" dy="14.7">信任》，倡导了当今语文课堂教学中用心灵诵</tspan><tspan x="1998" dy="14.7">读、用心灵倾诉的教学理念，较好的起到了示</tspan><tspan x="1998" dy="14.7">范作用;</tspan></text><line class="ul" x1="1993" y1="3690" x2="2233" y2="3690"/></g>
<g id="p5-b3b" class="t c5"><text x="1998" y="3732"><tspan x="1998">二是鼓励年轻教师勇于探究，大胆尝试，搭建</tspan><tspan x="1998" dy="14.7">教师专业成长的平台。青年教师王斌鹏、王祥</tspan><tspan x="1998" dy="14.7">玲、罗辉彬、徐桂芝、任红仙、李波、金红勋</tspan><tspan x="1998" dy="14.7">、龚桂建、张永东等积极主讲课改研讨课或参</tspan><tspan x="1998" dy="14.7">加理科组的优质课竞赛活动。他们有朝气、有</tspan><tspan x="1998" dy="14.7">活力，善于接受新事物、新知识，在教学中能</tspan><tspan x="1998" dy="14.7">把新的课改理念与现代教育信息技术有机地整</tspan><tspan x="1998" dy="14.7">合，课堂教学生动、活泼，富有激情和感染力</tspan><tspan x="1998" dy="14.7">，教学效果良好，深受学生的欢迎，他们已逐</tspan><tspan x="1998" dy="14.7">步成为我校课堂教学的中坚力量。在本学期理</tspan><tspan x="1998" dy="14.7">科组的优质课竞赛中，谢照晴、龚桂建、王斌</tspan><tspan x="1998" dy="14.7">鹏三位教师以精彩的课堂教学展示，良好的教</tspan><tspan x="1998" dy="14.7">学效果被评为理科组优质课教师;</tspan></text><line class="ul" x1="1993" y1="3917" x2="2233" y2="3917"/></g>
<g id="p5-b3c" class="t c5"><text x="1998" y="3958"><tspan x="1998">三是注重教学的专题研究。本学期针对我校语</tspan><tspan x="1998" dy="14.7">文教学中作文教学的这一薄弱环节，专门从随</tspan><tspan x="1998" dy="14.7">州请来对作文教学有丰富经验的袁平修老师，</tspan><tspan x="1998" dy="14.7">来我校主讲了两节作文教学示范课，并同我校</tspan><tspan x="1998" dy="14.7">的教师进行了专题座谈、互动交流，解开了老</tspan><tspan x="1998" dy="14.7">师普遍存在怕教作文，学生怕写作文的情结，</tspan><tspan x="1998" dy="14.7">找到了打开作文之门的钥匙。在期末复习时，</tspan><tspan x="1998" dy="14.7">副校长谢照晴同志主讲了如何引导学生复习，</tspan><tspan x="1998" dy="14.7">提高复习效益的示范课，其课中复习的知识点</tspan><tspan x="1998" dy="14.7">合理，学生的训练量适当，较好地达到了复习</tspan><tspan x="1998" dy="14.7">巩固、提高的目的，让学生从繁重的题海中，</tspan><tspan x="1998" dy="14.7">从沉甸甸的书包中走了出来。</tspan></text><line class="ul" x1="1993" y1="4129" x2="2233" y2="4129"/></g>
<g id="p5-b4" class="t c5"><text x="1737" y="4172"><tspan x="1737">四、凸显以教学为中心的理念，努力提高教学</tspan><tspan x="1737" dy="14.7">质量。教学质量的高低决定一所学校的生命力</tspan><tspan x="1737" dy="14.7">，在当前生源萎缩，学生家长对子女教育质量</tspan><tspan x="1737" dy="14.7">期望值日益渐涨的时期，学校的教学质量更显</tspan><tspan x="1737" dy="14.7">重要。本学期，我们在中心学校下发上学期六</tspan><tspan x="1737" dy="14.7">年级统考成绩结果后，深深地意识到我校教学</tspan><tspan x="1737" dy="14.7">质量的日渐下滑，这与我校曾经的辉煌相距甚</tspan><tspan x="1737" dy="14.7">远。为此，我们痛定思痛，进行了深刻的反思</tspan><tspan x="1737" dy="14.7">，找出我校教学质量下滑的原因，并为提高教</tspan><tspan x="1737" dy="14.7">学质量拿出一系列的举措，从提高认识，经费</tspan><tspan x="1737" dy="14.7">投入，时间保证，激发热情，制度保障等多方</tspan><tspan x="1737" dy="14.7">面入手，力求通过一学年的努力，切实扭转我</tspan><tspan x="1737" dy="14.7">校教学质量下滑的局面，向辖区内老百姓交一</tspan><tspan x="1737" dy="14.7">份满意的答卷。</tspan></text><line class="ul" x1="1730" y1="4372" x2="1971" y2="4372"/></g>
<g id="p5-b4a" class="t c5"><text x="1998" y="4187"><tspan x="1998">过去的一学期，学校的教学工作取得了一定的</tspan><tspan x="1998" dy="14.7">成绩，我们深深认识到成绩的取得离不开广大</tspan><tspan x="1998" dy="14.7">教师辛勤的耕耘，离不开学校党政领导的支持</tspan><tspan x="1998" dy="14.7">。同时，我们还意识到自身更多的不足，特别</tspan><tspan x="1998" dy="14.7">是加强教师们工作的责任感更要成为新学年的</tspan><tspan x="1998" dy="14.7">首要任务，教学常规检查还要进一步落到实处</tspan><tspan x="1998" dy="14.7">，教师利用接收资源应用于课堂的的整合能力</tspan><tspan x="1998" dy="14.7">还要加强。路漫漫其修远兮，本教导处还需不</tspan><tspan x="1998" dy="14.7">断求索!在新的学年中，我们定将团结全校广</tspan><tspan x="1998" dy="14.7">大师生，坚定不移地推进课程改革，全面发展</tspan><tspan x="1998" dy="14.7">学生素质，推进教师队伍建设，与时俱进，加</tspan><tspan x="1998" dy="14.7">强学习，争取使我校的教学工作迈上新的台阶</tspan><tspan x="1998" dy="14.7">。</tspan></text><line class="ul" x1="1993" y1="4372" x2="2233" y2="4372"/></g>
</g>
</svg>
